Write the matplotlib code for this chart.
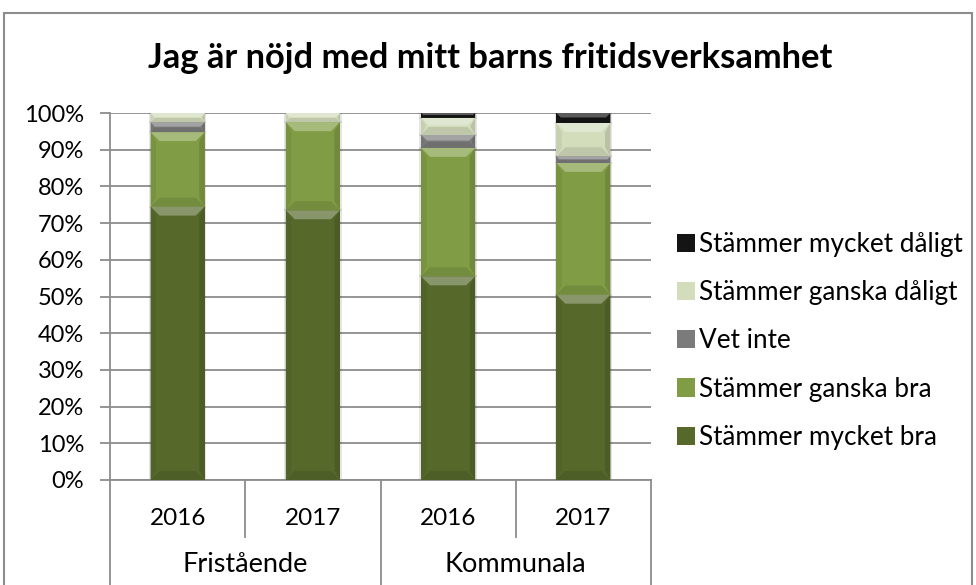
import matplotlib
matplotlib.use("Agg")
import matplotlib.pyplot as plt
from matplotlib.patches import Rectangle, Polygon, Patch
from matplotlib.colors import to_rgb
import numpy as np

plt.rcParams['font.family'] = ['Lato', 'DejaVu Sans']

title = "Jag är nöjd med mitt barns fritidsverksamhet"
years = ["2016", "2017", "2016", "2017"]
groups = ["Fristående", "Kommunala"]
series_names = ["Stämmer mycket bra", "Stämmer ganska bra", "Vet inte",
                "Stämmer ganska dåligt", "Stämmer mycket dåligt"]
mycket_bra = [74.5, 73.5, 55.5, 50.5]
ganska_bra = [20.3, 24.0, 35.0, 35.9]
vet_inte = [2.7, 0.0, 3.6, 1.8]
ganska_daligt = [2.5, 2.5, 4.6, 9.1]
mycket_daligt = [0.0, 0.0, 1.3, 2.7]
colors = ["#56692b", "#809c44", "#7b7b7b", "#d3ddbc", "#141414"]

series = [mycket_bra, ganska_bra, vet_inte, ganska_daligt, mycket_daligt]

W, H = 976, 585
fig = plt.figure(figsize=(W / 100, H / 100), dpi=100)
ax = fig.add_axes([110 / W, 105 / H, 541 / W, 367 / H])

x = np.arange(len(years))
bottom = np.zeros(len(years))
bar_containers = []
for vals, col, name in zip(series, colors, series_names):
    bc = ax.bar(x, vals, 0.4, bottom=bottom, color=col, label=name,
                edgecolor='none', zorder=3)
    bar_containers.append((bc, col))
    bottom += np.array(vals)

ax.set_xlim(-0.5, len(years) - 0.5)
ax.set_ylim(0, 100)


def blend(c, t, amt):
    c = np.array(to_rgb(c))
    t = np.array(to_rgb(t))
    return tuple(c + (t - c) * amt)


# bevel effect
px_x = 4 / 541  # data units per pixel in x
px_y = 100 / 367
for bc, col in bar_containers:
    for p in bc.patches:
        x0, y0 = p.get_x(), p.get_y()
        w, h = p.get_width(), p.get_height()
        if h <= 0:
            continue
        b = min(9 * px_y, h * 0.45)
        bx = b / px_y * px_x
        top = Polygon([(x0, y0 + h), (x0 + w, y0 + h), (x0 + w - bx, y0 + h - b),
                       (x0 + bx, y0 + h - b)], closed=True,
                      facecolor=blend(col, 'white', 0.3), edgecolor='none', zorder=4)
        bot = Polygon([(x0, y0), (x0 + w, y0), (x0 + w - bx, y0 + b),
                       (x0 + bx, y0 + b)], closed=True,
                      facecolor=blend(col, 'black', 0.10), edgecolor='none', zorder=4)
        left = Polygon([(x0, y0), (x0 + bx * 0.6, y0 + b), (x0 + bx * 0.6, y0 + h - b),
                        (x0, y0 + h)], closed=True,
                       facecolor=blend(col, 'black', 0.06), edgecolor='none', zorder=4)
        right = Polygon([(x0 + w, y0), (x0 + w - bx * 0.6, y0 + b),
                         (x0 + w - bx * 0.6, y0 + h - b), (x0 + w, y0 + h)], closed=True,
                        facecolor=blend(col, 'black', 0.12), edgecolor='none', zorder=4)
        for poly in (top, bot, left, right):
            ax.add_patch(poly)
        ax.add_patch(Rectangle((x0 - 0.006, y0), w + 0.012, h, facecolor='none',
                               edgecolor=(0, 0, 0, 0.12), linewidth=1.2, zorder=2))

lc = '#8c8c8c'
# gridlines and y axis
ax.set_yticks(np.arange(0, 101, 10))
ax.set_yticklabels([f"{v}%" for v in range(0, 101, 10)])
ax.yaxis.grid(True, color=lc, linewidth=1.3, zorder=0)
ax.set_axisbelow(True)
for s in ax.spines.values():
    s.set_visible(False)
ax.spines['left'].set_visible(True)
ax.spines['left'].set_color(lc)
ax.spines['left'].set_linewidth(1.3)
ax.tick_params(axis='y', length=7, width=1.3, color=lc, direction='out',
               pad=11.5, labelsize=17)
ax.set_xticks([])

# category axis
tr = ax.transAxes
ax.plot([0, 1], [0, 0], color=lc, lw=1.3, transform=tr, clip_on=False, zorder=2)
for xv, yb in [(0, -0.29), (0.25, -0.155), (0.5, -0.29), (0.75, -0.155), (1.0, -0.29)]:
    ax.plot([xv, xv], [0, yb], color=lc, lw=1.3, transform=tr, clip_on=False)
for i, yr in enumerate(years):
    ax.text((i + 0.5) / 4, -0.106, yr, transform=tr, ha='center', va='center',
            fontsize=17.5)
for i, g in enumerate(groups):
    ax.text((i + 0.5) / 2, -0.23, g, transform=tr, ha='center', va='center',
            fontsize=19.5)

fig.text(490 / W, 1 - 58 / H, title, ha='center', va='center', fontsize=24.8,
         fontweight='bold')

# outer border
fig.patches.append(Rectangle((4 / W, -0.05), 968 / W, 1.05 - 13 / H,
                             transform=fig.transFigure, facecolor='none',
                             edgecolor=lc, linewidth=1.5))

handles = [Patch(facecolor=c, edgecolor='none') for c in colors][::-1]
labels = series_names[::-1]
fig.legend(handles, labels, loc='upper left', bbox_to_anchor=(677 / W, 1 - 232 / H),
           frameon=False, fontsize=18.8, handlelength=0.7, handleheight=0.7,
           handletextpad=0.15, labelspacing=0.89, borderaxespad=0, borderpad=0)

fig.savefig("out.png", dpi=100)
